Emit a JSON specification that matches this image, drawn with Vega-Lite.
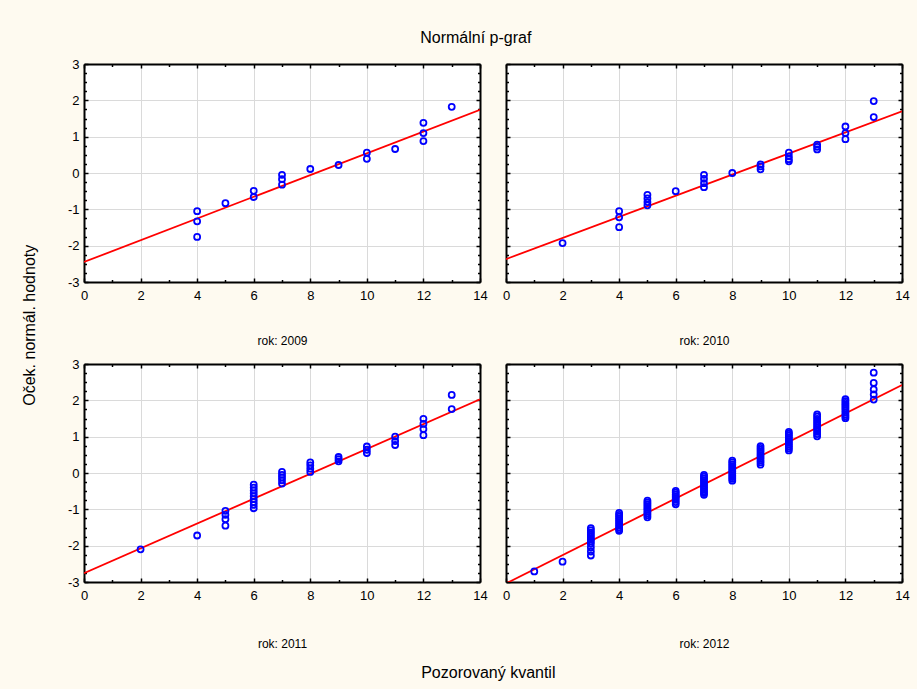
{
  "$schema": "https://vega.github.io/schema/vega-lite/v6.json",
  "background": "#FEFAF0",
  "padding": {"left": 22, "top": 30, "right": 8, "bottom": 8},
  "datasets": {
    "pts": [
      {"rok": 2009, "q": 4, "z": -1.05}, {"rok": 2009, "q": 4, "z": -1.33}, {"rok": 2009, "q": 4, "z": -1.76},
      {"rok": 2009, "q": 5, "z": -0.83}, {"rok": 2009, "q": 6, "z": -0.49}, {"rok": 2009, "q": 6, "z": -0.66},
      {"rok": 2009, "q": 7, "z": -0.05}, {"rok": 2009, "q": 7, "z": -0.17}, {"rok": 2009, "q": 7, "z": -0.32},
      {"rok": 2009, "q": 8, "z": 0.11}, {"rok": 2009, "q": 9, "z": 0.22}, {"rok": 2009, "q": 10, "z": 0.56},
      {"rok": 2009, "q": 10, "z": 0.39}, {"rok": 2009, "q": 11, "z": 0.66}, {"rok": 2009, "q": 12, "z": 1.38},
      {"rok": 2009, "q": 12, "z": 1.10}, {"rok": 2009, "q": 12, "z": 0.88}, {"rok": 2009, "q": 13, "z": 1.82},

      {"rok": 2010, "q": 2, "z": -1.93}, {"rok": 2010, "q": 4, "z": -1.05}, {"rok": 2010, "q": 4, "z": -1.22},
      {"rok": 2010, "q": 4, "z": -1.49}, {"rok": 2010, "q": 5, "z": -0.60}, {"rok": 2010, "q": 5, "z": -0.70},
      {"rok": 2010, "q": 5, "z": -0.80}, {"rok": 2010, "q": 5, "z": -0.89}, {"rok": 2010, "q": 6, "z": -0.50},
      {"rok": 2010, "q": 7, "z": -0.05}, {"rok": 2010, "q": 7, "z": -0.16}, {"rok": 2010, "q": 7, "z": -0.28},
      {"rok": 2010, "q": 7, "z": -0.39}, {"rok": 2010, "q": 8, "z": 0.0}, {"rok": 2010, "q": 9, "z": 0.24},
      {"rok": 2010, "q": 9, "z": 0.18}, {"rok": 2010, "q": 9, "z": 0.10}, {"rok": 2010, "q": 10, "z": 0.56},
      {"rok": 2010, "q": 10, "z": 0.46}, {"rok": 2010, "q": 10, "z": 0.38}, {"rok": 2010, "q": 10, "z": 0.32},
      {"rok": 2010, "q": 11, "z": 0.78}, {"rok": 2010, "q": 11, "z": 0.72}, {"rok": 2010, "q": 11, "z": 0.65},
      {"rok": 2010, "q": 12, "z": 1.28}, {"rok": 2010, "q": 12, "z": 1.10}, {"rok": 2010, "q": 12, "z": 0.93},
      {"rok": 2010, "q": 13, "z": 1.98}, {"rok": 2010, "q": 13, "z": 1.54},

      {"rok": 2011, "q": 2, "z": -2.10}, {"rok": 2011, "q": 4, "z": -1.72}, {"rok": 2011, "q": 5, "z": -1.04},
      {"rok": 2011, "q": 5, "z": -1.15}, {"rok": 2011, "q": 5, "z": -1.27}, {"rok": 2011, "q": 5, "z": -1.45},
      {"rok": 2011, "q": 6, "z": -0.32}, {"rok": 2011, "q": 6, "z": -0.40}, {"rok": 2011, "q": 6, "z": -0.48},
      {"rok": 2011, "q": 6, "z": -0.56}, {"rok": 2011, "q": 6, "z": -0.64}, {"rok": 2011, "q": 6, "z": -0.72},
      {"rok": 2011, "q": 6, "z": -0.80}, {"rok": 2011, "q": 6, "z": -0.88}, {"rok": 2011, "q": 6, "z": -0.97},
      {"rok": 2011, "q": 7, "z": 0.03}, {"rok": 2011, "q": 7, "z": -0.05}, {"rok": 2011, "q": 7, "z": -0.12},
      {"rok": 2011, "q": 7, "z": -0.20}, {"rok": 2011, "q": 7, "z": -0.29}, {"rok": 2011, "q": 8, "z": 0.29},
      {"rok": 2011, "q": 8, "z": 0.21}, {"rok": 2011, "q": 8, "z": 0.12}, {"rok": 2011, "q": 8, "z": 0.03},
      {"rok": 2011, "q": 9, "z": 0.44}, {"rok": 2011, "q": 9, "z": 0.38}, {"rok": 2011, "q": 9, "z": 0.32},
      {"rok": 2011, "q": 10, "z": 0.73}, {"rok": 2011, "q": 10, "z": 0.64}, {"rok": 2011, "q": 10, "z": 0.55},
      {"rok": 2011, "q": 11, "z": 1.0}, {"rok": 2011, "q": 11, "z": 0.88}, {"rok": 2011, "q": 11, "z": 0.77},
      {"rok": 2011, "q": 12, "z": 1.49}, {"rok": 2011, "q": 12, "z": 1.35}, {"rok": 2011, "q": 12, "z": 1.21},
      {"rok": 2011, "q": 12, "z": 1.04}, {"rok": 2011, "q": 13, "z": 2.15}, {"rok": 2011, "q": 13, "z": 1.76},

      {"rok": 2012, "q": 1, "z": -2.71}, {"rok": 2012, "q": 2, "z": -2.44},
      {"rok": 2012, "q": 3, "z": -2.27}, {"rok": 2012, "q": 3, "z": -2.16}, {"rok": 2012, "q": 3, "z": -2.05},
      {"rok": 2012, "q": 3, "z": -1.95}, {"rok": 2012, "q": 3, "z": -1.88}, {"rok": 2012, "q": 3, "z": -1.82},
      {"rok": 2012, "q": 3, "z": -1.76}, {"rok": 2012, "q": 3, "z": -1.70}, {"rok": 2012, "q": 3, "z": -1.64},
      {"rok": 2012, "q": 3, "z": -1.58}, {"rok": 2012, "q": 3, "z": -1.52},
      {"rok": 2012, "q": 4, "z": -1.10}, {"rok": 2012, "q": 4, "z": -1.15}, {"rok": 2012, "q": 4, "z": -1.20},
      {"rok": 2012, "q": 4, "z": -1.25}, {"rok": 2012, "q": 4, "z": -1.30}, {"rok": 2012, "q": 4, "z": -1.35},
      {"rok": 2012, "q": 4, "z": -1.40}, {"rok": 2012, "q": 4, "z": -1.45}, {"rok": 2012, "q": 4, "z": -1.50},
      {"rok": 2012, "q": 4, "z": -1.55}, {"rok": 2012, "q": 4, "z": -1.59},
      {"rok": 2012, "q": 5, "z": -0.76}, {"rok": 2012, "q": 5, "z": -0.81}, {"rok": 2012, "q": 5, "z": -0.86},
      {"rok": 2012, "q": 5, "z": -0.91}, {"rok": 2012, "q": 5, "z": -0.96}, {"rok": 2012, "q": 5, "z": -1.01},
      {"rok": 2012, "q": 5, "z": -1.06}, {"rok": 2012, "q": 5, "z": -1.11}, {"rok": 2012, "q": 5, "z": -1.16},
      {"rok": 2012, "q": 5, "z": -1.22},
      {"rok": 2012, "q": 6, "z": -0.49}, {"rok": 2012, "q": 6, "z": -0.54}, {"rok": 2012, "q": 6, "z": -0.59},
      {"rok": 2012, "q": 6, "z": -0.64}, {"rok": 2012, "q": 6, "z": -0.69}, {"rok": 2012, "q": 6, "z": -0.74},
      {"rok": 2012, "q": 6, "z": -0.80}, {"rok": 2012, "q": 6, "z": -0.86},
      {"rok": 2012, "q": 7, "z": -0.05}, {"rok": 2012, "q": 7, "z": -0.10}, {"rok": 2012, "q": 7, "z": -0.15},
      {"rok": 2012, "q": 7, "z": -0.20}, {"rok": 2012, "q": 7, "z": -0.25}, {"rok": 2012, "q": 7, "z": -0.30},
      {"rok": 2012, "q": 7, "z": -0.35}, {"rok": 2012, "q": 7, "z": -0.40}, {"rok": 2012, "q": 7, "z": -0.45},
      {"rok": 2012, "q": 7, "z": -0.50}, {"rok": 2012, "q": 7, "z": -0.55}, {"rok": 2012, "q": 7, "z": -0.60},
      {"rok": 2012, "q": 8, "z": 0.34}, {"rok": 2012, "q": 8, "z": 0.29}, {"rok": 2012, "q": 8, "z": 0.24},
      {"rok": 2012, "q": 8, "z": 0.19}, {"rok": 2012, "q": 8, "z": 0.14}, {"rok": 2012, "q": 8, "z": 0.09},
      {"rok": 2012, "q": 8, "z": 0.04}, {"rok": 2012, "q": 8, "z": -0.01}, {"rok": 2012, "q": 8, "z": -0.06},
      {"rok": 2012, "q": 8, "z": -0.11}, {"rok": 2012, "q": 8, "z": -0.16}, {"rok": 2012, "q": 8, "z": -0.21},
      {"rok": 2012, "q": 9, "z": 0.74}, {"rok": 2012, "q": 9, "z": 0.69}, {"rok": 2012, "q": 9, "z": 0.64},
      {"rok": 2012, "q": 9, "z": 0.59}, {"rok": 2012, "q": 9, "z": 0.54}, {"rok": 2012, "q": 9, "z": 0.49},
      {"rok": 2012, "q": 9, "z": 0.44}, {"rok": 2012, "q": 9, "z": 0.39}, {"rok": 2012, "q": 9, "z": 0.34},
      {"rok": 2012, "q": 9, "z": 0.29}, {"rok": 2012, "q": 9, "z": 0.23},
      {"rok": 2012, "q": 10, "z": 1.13}, {"rok": 2012, "q": 10, "z": 1.08}, {"rok": 2012, "q": 10, "z": 1.03},
      {"rok": 2012, "q": 10, "z": 0.98}, {"rok": 2012, "q": 10, "z": 0.93}, {"rok": 2012, "q": 10, "z": 0.88},
      {"rok": 2012, "q": 10, "z": 0.83}, {"rok": 2012, "q": 10, "z": 0.78}, {"rok": 2012, "q": 10, "z": 0.73},
      {"rok": 2012, "q": 10, "z": 0.68}, {"rok": 2012, "q": 10, "z": 0.62},
      {"rok": 2012, "q": 11, "z": 1.61}, {"rok": 2012, "q": 11, "z": 1.55}, {"rok": 2012, "q": 11, "z": 1.49},
      {"rok": 2012, "q": 11, "z": 1.43}, {"rok": 2012, "q": 11, "z": 1.37}, {"rok": 2012, "q": 11, "z": 1.31},
      {"rok": 2012, "q": 11, "z": 1.25}, {"rok": 2012, "q": 11, "z": 1.19}, {"rok": 2012, "q": 11, "z": 1.13},
      {"rok": 2012, "q": 11, "z": 1.07}, {"rok": 2012, "q": 11, "z": 1.01},
      {"rok": 2012, "q": 12, "z": 2.03}, {"rok": 2012, "q": 12, "z": 1.98}, {"rok": 2012, "q": 12, "z": 1.93},
      {"rok": 2012, "q": 12, "z": 1.88}, {"rok": 2012, "q": 12, "z": 1.83}, {"rok": 2012, "q": 12, "z": 1.78},
      {"rok": 2012, "q": 12, "z": 1.73}, {"rok": 2012, "q": 12, "z": 1.67}, {"rok": 2012, "q": 12, "z": 1.61},
      {"rok": 2012, "q": 12, "z": 1.56}, {"rok": 2012, "q": 12, "z": 1.51},
      {"rok": 2012, "q": 13, "z": 2.76}, {"rok": 2012, "q": 13, "z": 2.48}, {"rok": 2012, "q": 13, "z": 2.30},
      {"rok": 2012, "q": 13, "z": 2.16}, {"rok": 2012, "q": 13, "z": 2.02}
    ],
    "lines": [
      {"rok": 2009, "q": 0, "z": -2.45}, {"rok": 2009, "q": 14, "z": 1.74},
      {"rok": 2010, "q": 0, "z": -2.37}, {"rok": 2010, "q": 14, "z": 1.70},
      {"rok": 2011, "q": 0, "z": -2.76}, {"rok": 2011, "q": 14, "z": 2.03},
      {"rok": 2012, "q": 0, "z": -3.04}, {"rok": 2012, "q": 14, "z": 2.42}
    ]
  },
  "title": {"text": "Normální p-graf", "font": "Liberation Sans", "fontSize": 16, "fontWeight": "normal", "color": "#000000", "anchor": "middle", "offset": 12, "dx": 10},
  "vconcat": [
    {
      "title": {"text": "Oček. normál. hodnoty", "orient": "left", "font": "Liberation Sans", "fontSize": 16, "fontWeight": "normal", "color": "#000000", "anchor": "middle", "offset": 29, "dx": 44},
      "vconcat": [
        {
          "title": {"text": "Pozorovaný kvantil", "orient": "bottom", "font": "Liberation Sans", "fontSize": 16, "fontWeight": "normal", "color": "#000000", "anchor": "middle", "offset": 15},
          "spacing": 11,
          "vconcat": [
            {
              "bounds": "flush",
              "spacing": 26,
              "hconcat": [
                {
                  "width": 396, "height": 218,
                  "layer": [
                    {"data": {"name": "lines"}, "transform": [{"filter": "datum.rok == 2009"}],
                     "mark": {"type": "line", "color": "#FF0000", "strokeWidth": 1.8, "clip": true},
                     "encoding": {
                       "x": {"field": "q", "type": "quantitative", "scale": {"domain": [0, 14], "nice": false, "zero": false},
                             "axis": {"orient": "top", "values": [0,1,2,3,4,5,6,7,8,9,10,11,12,13,14], "labels": false, "grid": false, "title": null,
                                      "tickSize": {"condition": {"test": "datum.value % 2 == 0", "value": -4}, "value": -2.5}}},
                       "y": {"field": "z", "type": "quantitative", "scale": {"domain": [-3, 3], "nice": false, "zero": false},
                             "axis": {"orient": "right", "values": [-3,-2.75,-2.5,-2.25,-2,-1.75,-1.5,-1.25,-1,-0.75,-0.5,-0.25,0,0.25,0.5,0.75,1,1.25,1.5,1.75,2,2.25,2.5,2.75,3], "labels": false, "grid": false, "title": null,
                                      "tickSize": {"condition": {"test": "datum.value % 1 == 0", "value": -4}, "value": -2.5}}}
                     }},
                    {"data": {"name": "pts"}, "transform": [{"filter": "datum.rok == 2009"}],
                     "mark": {"type": "point", "shape": "circle", "filled": false, "color": "#0000FF", "strokeWidth": 1.8, "size": 36, "opacity": 1},
                     "encoding": {
                       "x": {"field": "q", "type": "quantitative",
                             "axis": {"orient": "bottom", "values": [0,1,2,3,4,5,6,7,8,9,10,11,12,13,14], "labelExpr": "datum.value % 2 == 0 ? '' + datum.value : ''", "grid": true, "labelPadding": 11,
                                      "gridOpacity": {"condition": {"test": "datum.value % 2 == 0", "value": 1}, "value": 0},
                                      "tickSize": {"condition": {"test": "datum.value % 2 == 0", "value": -4}, "value": -2.5},
                                      "title": "rok: 2009"}},
                       "y": {"field": "z", "type": "quantitative",
                             "axis": {"orient": "left", "values": [-3,-2.75,-2.5,-2.25,-2,-1.75,-1.5,-1.25,-1,-0.75,-0.5,-0.25,0,0.25,0.5,0.75,1,1.25,1.5,1.75,2,2.25,2.5,2.75,3], "labelExpr": "datum.value % 1 == 0 ? '' + datum.value : ''", "grid": true, "labelPadding": 9,
                                      "gridOpacity": {"condition": {"test": "datum.value % 1 == 0", "value": 1}, "value": 0},
                                      "tickSize": {"condition": {"test": "datum.value % 1 == 0", "value": -4}, "value": -2.5},
                                      "title": null}}
                     }}
                  ],
                  "resolve": {"axis": {"x": "independent", "y": "independent"}}
                },
                {
                  "width": 396, "height": 218,
                  "layer": [
                    {"data": {"name": "lines"}, "transform": [{"filter": "datum.rok == 2010"}],
                     "mark": {"type": "line", "color": "#FF0000", "strokeWidth": 1.8, "clip": true},
                     "encoding": {
                       "x": {"field": "q", "type": "quantitative", "scale": {"domain": [0, 14], "nice": false, "zero": false},
                             "axis": {"orient": "top", "values": [0,1,2,3,4,5,6,7,8,9,10,11,12,13,14], "labels": false, "grid": false, "title": null,
                                      "tickSize": {"condition": {"test": "datum.value % 2 == 0", "value": -4}, "value": -2.5}}},
                       "y": {"field": "z", "type": "quantitative", "scale": {"domain": [-3, 3], "nice": false, "zero": false},
                             "axis": {"orient": "right", "values": [-3,-2.75,-2.5,-2.25,-2,-1.75,-1.5,-1.25,-1,-0.75,-0.5,-0.25,0,0.25,0.5,0.75,1,1.25,1.5,1.75,2,2.25,2.5,2.75,3], "labels": false, "grid": false, "title": null,
                                      "tickSize": {"condition": {"test": "datum.value % 1 == 0", "value": -4}, "value": -2.5}}}
                     }},
                    {"data": {"name": "pts"}, "transform": [{"filter": "datum.rok == 2010"}],
                     "mark": {"type": "point", "shape": "circle", "filled": false, "color": "#0000FF", "strokeWidth": 1.8, "size": 36, "opacity": 1},
                     "encoding": {
                       "x": {"field": "q", "type": "quantitative",
                             "axis": {"orient": "bottom", "values": [0,1,2,3,4,5,6,7,8,9,10,11,12,13,14], "labelExpr": "datum.value % 2 == 0 ? '' + datum.value : ''", "grid": true, "labelPadding": 11,
                                      "gridOpacity": {"condition": {"test": "datum.value % 2 == 0", "value": 1}, "value": 0},
                                      "tickSize": {"condition": {"test": "datum.value % 2 == 0", "value": -4}, "value": -2.5},
                                      "title": "rok: 2010"}},
                       "y": {"field": "z", "type": "quantitative",
                             "axis": {"orient": "left", "values": [-3,-2.75,-2.5,-2.25,-2,-1.75,-1.5,-1.25,-1,-0.75,-0.5,-0.25,0,0.25,0.5,0.75,1,1.25,1.5,1.75,2,2.25,2.5,2.75,3], "labels": false, "grid": true,
                                      "gridOpacity": {"condition": {"test": "datum.value % 1 == 0", "value": 1}, "value": 0},
                                      "tickSize": {"condition": {"test": "datum.value % 1 == 0", "value": -4}, "value": -2.5},
                                      "title": null}}
                     }}
                  ],
                  "resolve": {"axis": {"x": "independent", "y": "independent"}}
                }
              ]
            },
            {
              "bounds": "flush",
              "spacing": 26,
              "hconcat": [
                {
                  "width": 396, "height": 218,
                  "layer": [
                    {"data": {"name": "lines"}, "transform": [{"filter": "datum.rok == 2011"}],
                     "mark": {"type": "line", "color": "#FF0000", "strokeWidth": 1.8, "clip": true},
                     "encoding": {
                       "x": {"field": "q", "type": "quantitative", "scale": {"domain": [0, 14], "nice": false, "zero": false},
                             "axis": {"orient": "top", "values": [0,1,2,3,4,5,6,7,8,9,10,11,12,13,14], "labels": false, "grid": false, "title": null,
                                      "tickSize": {"condition": {"test": "datum.value % 2 == 0", "value": -4}, "value": -2.5}}},
                       "y": {"field": "z", "type": "quantitative", "scale": {"domain": [-3, 3], "nice": false, "zero": false},
                             "axis": {"orient": "right", "values": [-3,-2.75,-2.5,-2.25,-2,-1.75,-1.5,-1.25,-1,-0.75,-0.5,-0.25,0,0.25,0.5,0.75,1,1.25,1.5,1.75,2,2.25,2.5,2.75,3], "labels": false, "grid": false, "title": null,
                                      "tickSize": {"condition": {"test": "datum.value % 1 == 0", "value": -4}, "value": -2.5}}}
                     }},
                    {"data": {"name": "pts"}, "transform": [{"filter": "datum.rok == 2011"}],
                     "mark": {"type": "point", "shape": "circle", "filled": false, "color": "#0000FF", "strokeWidth": 1.8, "size": 36, "opacity": 1},
                     "encoding": {
                       "x": {"field": "q", "type": "quantitative",
                             "axis": {"orient": "bottom", "values": [0,1,2,3,4,5,6,7,8,9,10,11,12,13,14], "labelExpr": "datum.value % 2 == 0 ? '' + datum.value : ''", "grid": true, "labelPadding": 11,
                                      "gridOpacity": {"condition": {"test": "datum.value % 2 == 0", "value": 1}, "value": 0},
                                      "tickSize": {"condition": {"test": "datum.value % 2 == 0", "value": -4}, "value": -2.5},
                                      "title": "rok: 2011", "titlePadding": 35}},
                       "y": {"field": "z", "type": "quantitative",
                             "axis": {"orient": "left", "values": [-3,-2.75,-2.5,-2.25,-2,-1.75,-1.5,-1.25,-1,-0.75,-0.5,-0.25,0,0.25,0.5,0.75,1,1.25,1.5,1.75,2,2.25,2.5,2.75,3], "labelExpr": "datum.value % 1 == 0 ? '' + datum.value : ''", "grid": true, "labelPadding": 9,
                                      "gridOpacity": {"condition": {"test": "datum.value % 1 == 0", "value": 1}, "value": 0},
                                      "tickSize": {"condition": {"test": "datum.value % 1 == 0", "value": -4}, "value": -2.5},
                                      "title": null}}
                     }}
                  ],
                  "resolve": {"axis": {"x": "independent", "y": "independent"}}
                },
                {
                  "width": 396, "height": 218,
                  "layer": [
                    {"data": {"name": "lines"}, "transform": [{"filter": "datum.rok == 2012"}],
                     "mark": {"type": "line", "color": "#FF0000", "strokeWidth": 1.8, "clip": true},
                     "encoding": {
                       "x": {"field": "q", "type": "quantitative", "scale": {"domain": [0, 14], "nice": false, "zero": false},
                             "axis": {"orient": "top", "values": [0,1,2,3,4,5,6,7,8,9,10,11,12,13,14], "labels": false, "grid": false, "title": null,
                                      "tickSize": {"condition": {"test": "datum.value % 2 == 0", "value": -4}, "value": -2.5}}},
                       "y": {"field": "z", "type": "quantitative", "scale": {"domain": [-3, 3], "nice": false, "zero": false},
                             "axis": {"orient": "right", "values": [-3,-2.75,-2.5,-2.25,-2,-1.75,-1.5,-1.25,-1,-0.75,-0.5,-0.25,0,0.25,0.5,0.75,1,1.25,1.5,1.75,2,2.25,2.5,2.75,3], "labels": false, "grid": false, "title": null,
                                      "tickSize": {"condition": {"test": "datum.value % 1 == 0", "value": -4}, "value": -2.5}}}
                     }},
                    {"data": {"name": "pts"}, "transform": [{"filter": "datum.rok == 2012"}],
                     "mark": {"type": "point", "shape": "circle", "filled": false, "color": "#0000FF", "strokeWidth": 1.8, "size": 36, "opacity": 1},
                     "encoding": {
                       "x": {"field": "q", "type": "quantitative",
                             "axis": {"orient": "bottom", "values": [0,1,2,3,4,5,6,7,8,9,10,11,12,13,14], "labelExpr": "datum.value % 2 == 0 ? '' + datum.value : ''", "grid": true, "labelPadding": 11,
                                      "gridOpacity": {"condition": {"test": "datum.value % 2 == 0", "value": 1}, "value": 0},
                                      "tickSize": {"condition": {"test": "datum.value % 2 == 0", "value": -4}, "value": -2.5},
                                      "title": "rok: 2012", "titlePadding": 35}},
                       "y": {"field": "z", "type": "quantitative",
                             "axis": {"orient": "left", "values": [-3,-2.75,-2.5,-2.25,-2,-1.75,-1.5,-1.25,-1,-0.75,-0.5,-0.25,0,0.25,0.5,0.75,1,1.25,1.5,1.75,2,2.25,2.5,2.75,3], "labels": false, "grid": true,
                                      "gridOpacity": {"condition": {"test": "datum.value % 1 == 0", "value": 1}, "value": 0},
                                      "tickSize": {"condition": {"test": "datum.value % 1 == 0", "value": -4}, "value": -2.5},
                                      "title": null}}
                     }}
                  ],
                  "resolve": {"axis": {"x": "independent", "y": "independent"}}
                }
              ]
            }
          ]
        }
      ]
    }
  ],
  "config": {
    "view": {"stroke": null, "fill": "#FFFFFF"},
    "axis": {
      "domainColor": "#000000", "domainWidth": 2,
      "tickColor": "#000000", "tickWidth": 1.5,
      "gridColor": "#DADADA", "gridWidth": 1,
      "labelFont": "Liberation Sans", "labelFontSize": 13, "labelColor": "#000000",
      "labelPadding": 6, "labelFlush": false, "labelOverlap": false, "labelBound": false,
      "titleFont": "Liberation Sans", "titleFontSize": 12, "titleFontWeight": "normal", "titleColor": "#000000",
      "titlePadding": 32
    }
  }
}
